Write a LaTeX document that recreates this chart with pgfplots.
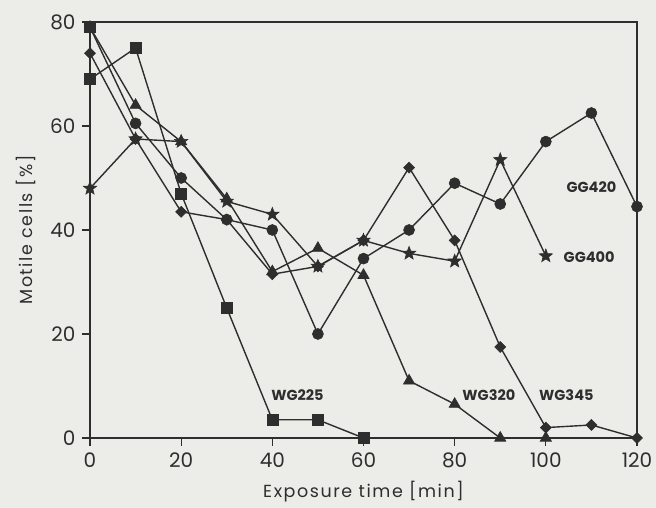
\documentclass[border=0pt]{standalone}
\usepackage{pgfplots}
\pgfplotsset{compat=1.18}
\usepackage{fontspec}
\setmainfont{Poppins}
\newfontfamily\labelfont[LetterSpace=9]{Poppins}
\usetikzlibrary{calc,backgrounds}
\definecolor{paper}{HTML}{ECECE8}
\definecolor{ink}{HTML}{2E2E2E}
% filled five-pointed star and square diamond
\pgfdeclareplotmark{fstar}{%
  \pgfpathmoveto{\pgfqpointpolar{90}{\pgfplotmarksize}}%
  \foreach \k in {1,...,9}{%
    \pgfmathsetmacro\ang{90+36*\k}%
    \ifodd\k
      \pgfpathlineto{\pgfqpointpolar{\ang}{0.42\pgfplotmarksize}}%
    \else
      \pgfpathlineto{\pgfqpointpolar{\ang}{\pgfplotmarksize}}%
    \fi}%
  \pgfpathclose\pgfusepathqfillstroke}
\pgfdeclareplotmark{sqdiamond}{%
  \pgfpathmoveto{\pgfqpoint{0pt}{\pgfplotmarksize}}%
  \pgfpathlineto{\pgfqpoint{\pgfplotmarksize}{0pt}}%
  \pgfpathlineto{\pgfqpoint{0pt}{-\pgfplotmarksize}}%
  \pgfpathlineto{\pgfqpoint{-\pgfplotmarksize}{0pt}}%
  \pgfpathclose\pgfusepathqfillstroke}
\begin{document}
\begin{tikzpicture}
\begin{axis}[
    name=ax,
    scale only axis,
    width=547pt, height=416pt,
    xmin=0, xmax=120, ymin=0, ymax=80,
    xtick={0,20,40,60,80,100,120},
    ytick={0,20,40,60,80},
    tick align=outside,
    xtick pos=bottom, ytick pos=left,
    major tick length=8pt,
    axis line style={ink, line width=1.3pt},
    tick style={ink, line width=1.3pt},
    clip=false,
    xlabel={Exposure time [min]},
    ylabel={Motile cells [\%]},
    xlabel style={yshift=-7pt},
    ylabel style={yshift=8pt},
    label style={font=\labelfont\fontsize{17.5}{20}\selectfont, ink},
    tick label style={font=\fontsize{20}{24}\selectfont, ink},
    xticklabel style={yshift=-3pt},
    yticklabel style={xshift=-3pt},
    /pgf/number format/assume math mode=true,
    every axis plot/.append style={ink, line width=1.4pt, mark options={solid, fill=ink, draw=ink, line width=0.6pt}},
]
% WG225
\addplot[mark=square*, mark size=5.5pt] coordinates {
    (0,69) (10,75) (20,47) (30,25) (40,3.5) (50,3.5) (60,0)
};
% WG320
\addplot[mark=triangle*, mark size=6.5pt] coordinates {
    (0,79) (10,64) (20,57) (30,46) (40,32) (50,36.5) (60,31.3) (70,11) (80,6.5) (90,0) (100,0)
};
% WG345
\addplot[mark=sqdiamond, mark size=5.5pt] coordinates {
    (0,74) (10,57.5) (20,43.5) (30,42) (40,31.5) (50,33) (60,38) (70,52) (80,38) (90,17.5) (100,2) (110,2.5) (120,0)
};
% GG400
\addplot[mark=fstar, mark size=7pt] coordinates {
    (0,48) (10,57.5) (20,57) (30,45.5) (40,43) (50,33) (60,38) (70,35.5) (80,34) (90,53.5) (100,35)
};
% GG420
\addplot[mark=*, mark size=5.5pt] coordinates {
    (0,79) (10,60.5) (20,50) (30,42) (40,40) (50,20) (60,34.5) (70,40) (80,49) (90,45) (100,57) (110,62.5) (120,44.5)
};
% the square drawn over the start at 79
\addplot[only marks, mark=square*, mark size=5.5pt] coordinates {(0,79)};
\node[font=\bfseries\fontsize{14.5}{16}\selectfont, ink] at (axis cs:45.5,8.3) {WG225};
\node[font=\bfseries\fontsize{14.5}{16}\selectfont, ink] at (axis cs:87.5,8.3) {WG320};
\node[font=\bfseries\fontsize{14.5}{16}\selectfont, ink] at (axis cs:104.5,8.3) {WG345};
\node[font=\bfseries\fontsize{14.5}{16}\selectfont, ink] at (axis cs:110,48.3) {GG420};
\node[font=\bfseries\fontsize{14.5}{16}\selectfont, ink] at (axis cs:109.5,34.8) {GG400};
\end{axis}
\pgfresetboundingbox
\path ($(ax.south west)+(-90pt,-70pt)$) coordinate (bl) rectangle ($(ax.north east)+(19pt,22pt)$) coordinate (tr);
\begin{scope}[on background layer]
\fill[paper] (bl) rectangle (tr);
\end{scope}
\end{tikzpicture}
\end{document}
